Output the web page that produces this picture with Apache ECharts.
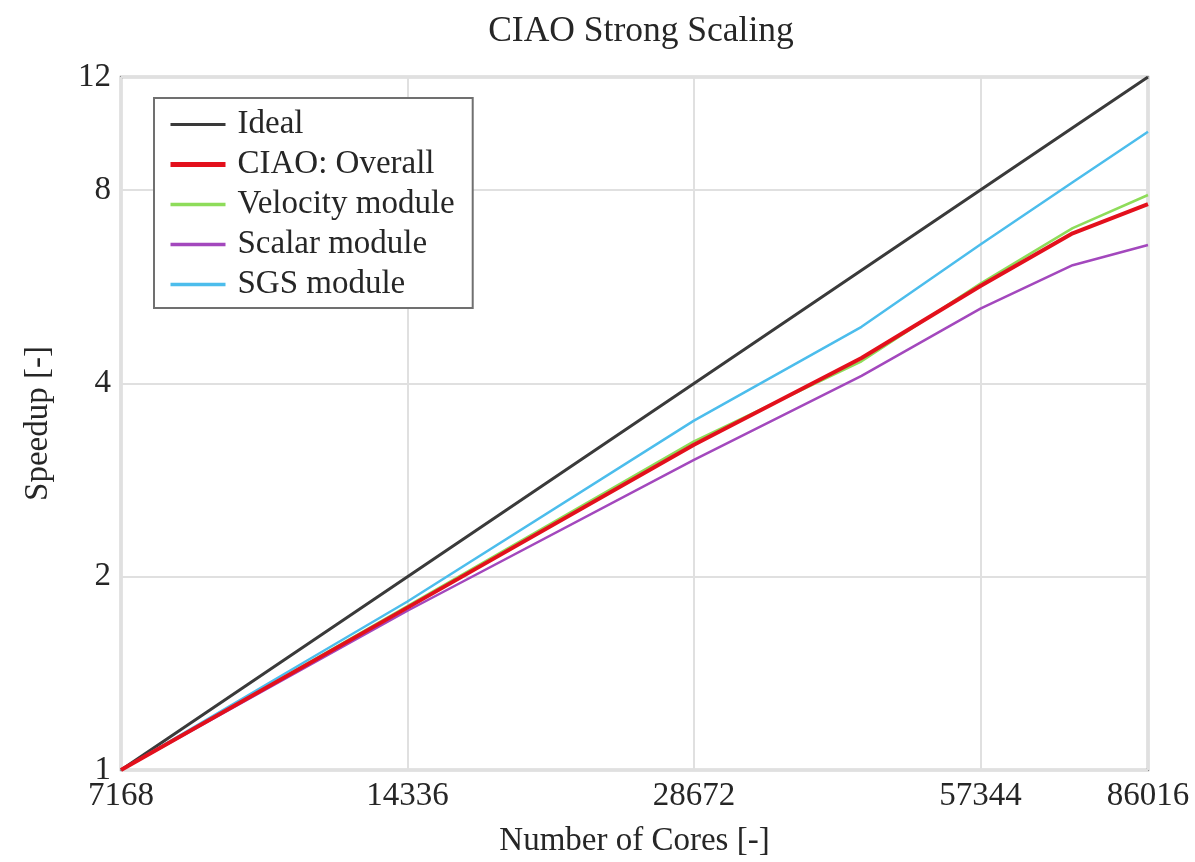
<!DOCTYPE html>
<html>
<head>
<meta charset="utf-8">
<script src="https://cdn.jsdelivr.net/npm/echarts@6/dist/echarts.min.js"></script>
<style>
  html, body { margin: 0; padding: 0; background: #ffffff; }
  #chart { width: 1195px; height: 862px; }
</style>
</head>
<body>
<div id="chart"></div>
<script>
// Strong-scaling measurements: core counts and speedup relative to the smallest run
const cores    = [7168, 14336, 28672, 43008, 57344, 71680, 86016];
const ideal    = [1, 2, 4, 6, 8, 10, 12];
const overall  = [1, 1.79, 3.21, 4.38, 5.67, 6.85, 7.61];
const velocity = [1, 1.80, 3.25, 4.33, 5.72, 6.98, 7.86];
const scalar   = [1, 1.77, 3.04, 4.11, 5.23, 6.11, 6.57];
const sgs      = [1, 1.83, 3.50, 4.90, 6.58, 8.23, 9.86];

// Tick labels on the two log2 axes
const xTicks = [7168, 14336, 28672, 57344, 86016];
const yTicks = [1, 2, 4, 8, 12];

const seriesNames = ['Ideal', 'CIAO: Overall', 'Velocity module', 'Scalar module', 'SGS module'];
const legendWidths = [3, 5, 3.5, 3.5, 3.5];

const FONT = 'Liberation Serif, DejaVu Serif, serif';
const TEXT = '#262626';

// Both axes are log base 2: plot log2 of the ratio to the first core count and log2 of the speedup
const base = cores[0];
const toPoints = vals => cores.map((c, i) => [Math.log2(c / base), Math.log2(vals[i])]);
const nearest = (list, v) => list.reduce((a, b) => Math.abs(b - v) < Math.abs(a - v) ? b : a);

const xMax = Math.log2(xTicks[xTicks.length - 1] / base);
const yMax = Math.log2(yTicks[yTicks.length - 1]);

function lineSeries(name, vals, color, width, z) {
  return {
    name: name,
    type: 'line',
    data: toPoints(vals),
    symbol: 'none',
    showSymbol: false,
    smooth: false,
    z: z,
    lineStyle: { color: color, width: width },
    itemStyle: { color: color },
    emphasis: { disabled: true }
  };
}

const chart = echarts.init(document.getElementById('chart'), null, { renderer: 'canvas' });

chart.setOption({
  animation: false,
  backgroundColor: '#ffffff',
  title: {
    text: 'CIAO Strong Scaling',
    left: 636,
    top: 9,
    textAlign: 'center',
    textStyle: { fontFamily: FONT, fontSize: 35.5, fontWeight: 'normal', color: TEXT }
  },
  legend: {
    orient: 'vertical',
    left: 154,
    top: 98,
    data: seriesNames.map((n, i) => ({ name: n, lineStyle: { width: legendWidths[i] } })),
    itemWidth: 55,
    itemHeight: 14,
    itemGap: 7,
    padding: [10, 18, 7, 14],
    backgroundColor: '#ffffff',
    borderColor: '#707070',
    borderWidth: 2,
    borderRadius: 0,
    selectedMode: false,
    itemStyle: { opacity: 0 },
    textStyle: {
      fontFamily: FONT,
      fontSize: 33,
      lineHeight: 33,
      color: TEXT,
      padding: [0, 0, 0, 7]
    }
  },
  grid: {
    left: 121,
    right: 47,
    top: 77,
    bottom: 92,
    outerBoundsMode: 'none',
    containLabel: false,
    show: true,
    borderColor: '#8e8e8e',
    borderWidth: 2.5,
    backgroundColor: 'transparent'
  },
  xAxis: {
    type: 'value',
    min: 0,
    max: xMax,
    interval: 1,
    name: 'Number of Cores [-]',
    nameLocation: 'middle',
    nameGap: 55,
    nameTextStyle: { fontFamily: FONT, fontSize: 33, color: TEXT },
    axisLine: { show: false },
    axisTick: { show: false },
    axisLabel: {
      fontFamily: FONT,
      fontSize: 33,
      color: TEXT,
      margin: 10,
      showMaxLabel: true,
      showMinLabel: true,
      formatter: v => String(nearest(xTicks, base * Math.pow(2, v)))
    },
    splitLine: { show: true, lineStyle: { color: '#e0e0e0', width: 2 } }
  },
  yAxis: {
    type: 'value',
    min: 0,
    max: yMax,
    interval: 1,
    name: 'Speedup [-]',
    nameLocation: 'middle',
    nameGap: 66,
    nameRotate: 90,
    nameTextStyle: { fontFamily: FONT, fontSize: 33, color: TEXT },
    axisLine: { show: false },
    axisTick: { show: false },
    axisLabel: {
      fontFamily: FONT,
      fontSize: 33,
      color: TEXT,
      margin: 10,
      showMaxLabel: true,
      showMinLabel: true,
      formatter: v => String(nearest(yTicks, Math.pow(2, v)))
    },
    splitLine: { show: true, lineStyle: { color: '#e0e0e0', width: 2 } }
  },
  series: [
    lineSeries('Ideal', ideal, '#3a3a3a', 3, 2),
    lineSeries('CIAO: Overall', overall, '#e3101c', 4, 6),
    lineSeries('Velocity module', velocity, '#8edc5a', 2.5, 4),
    lineSeries('Scalar module', scalar, '#a348bd', 2.5, 3),
    lineSeries('SGS module', sgs, '#4cbdec', 2.5, 5)
  ]
});
</script>
</body>
</html>
